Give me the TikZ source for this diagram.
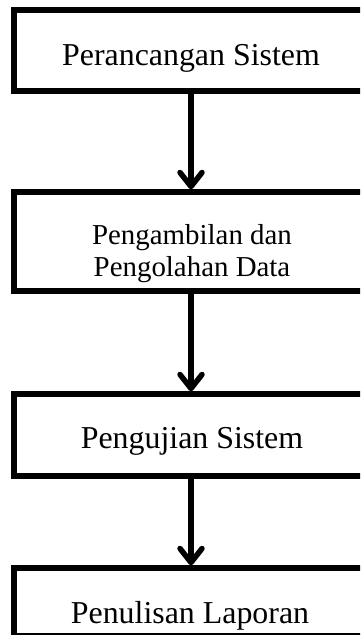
\documentclass[tikz,border=0pt]{standalone}
\usepackage{fontspec}
\setmainfont{Liberation Serif}
\usetikzlibrary{arrows.meta, positioning}

\begin{document}
\begin{tikzpicture}[x=1bp, y=-1bp,
    stepbox/.style={draw=black, line width=5.5bp, rectangle, minimum width=354bp, inner sep=0pt},
    steptext/.style={font=\fontsize{32}{38}\selectfont, inner sep=0pt, anchor=base},
    flow/.style={line width=5.5bp, -{Straight Barb[length=14bp, width=22bp, line cap=round, line join=round]}}]
  \useasboundingbox (0,0) rectangle (360,635);
  \clip (0,0) rectangle (360,635);
  \node[stepbox, minimum height=81bp] (rancang) at (191,50.5) {};
  \node[stepbox, minimum height=99bp] (ambil) at (191,241.5) {};
  \node[stepbox, minimum height=82bp] (uji) at (191,435) {};
  \node[stepbox, minimum height=68bp] (tulis) at (191,602) {};
  \node[steptext] (trancang) at (191,66) {Perancangan Sistem};
  \node[font=\fontsize{29}{32}\selectfont, inner sep=0pt, align=center] (tambil) at (192,254) {Pengambilan dan\\Pengolahan Data};
  \node[steptext] (tuji) at (192,448) {Pengujian Sistem};
  \node[steptext] (ttulis) at (190,623) {Penulisan Laporan};
  \draw[flow] (rancang.south) -- (ambil.north);
  \draw[flow] (ambil.south) -- (uji.north);
  \draw[flow] (uji.south) -- (tulis.north);
\end{tikzpicture}
\end{document}
